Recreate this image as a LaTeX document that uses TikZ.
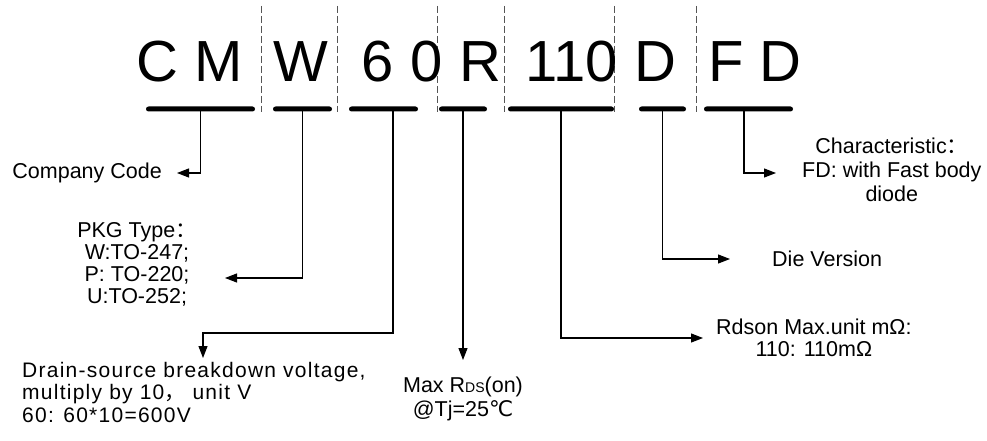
\documentclass[tikz,border=0pt]{standalone}
\usepackage{fontspec}
\setmainfont{Liberation Sans}
\newfontfamily\cjkpunct{Noto Sans CJK SC}
\newfontfamily\symglyph{DejaVu Sans}
\newfontfamily\widesans[LetterSpace=6]{Liberation Sans}
\usepackage{tikz}
\usetikzlibrary{arrows.meta,positioning}
\definecolor{PartInk}{HTML}{000000}
\definecolor{GuideGray}{HTML}{555555}

\begin{document}
\begin{tikzpicture}[x=1pt,y=-1pt,
    codechar/.style={anchor=base,inner sep=0pt,font=\fontsize{58}{58}\selectfont},
    codebar/.style={fill=PartInk,rounded corners=2.5pt,minimum height=5pt,inner sep=0pt},
    guide/.style={draw=GuideGray,line width=0.8pt,dash pattern=on 7pt off 3pt},
    link/.style={draw=PartInk,line width=1.1pt,-{Triangle[length=12pt,width=9pt]}},
    lbl/.style={inner sep=0pt,align=center,font=\fontsize{21.5}{22}\selectfont}]
  \useasboundingbox (0,0) rectangle (987,441);

  \foreach \gx in {261,337,437,504,614,696}
    \draw[guide] (\gx,6) -- (\gx,112);

  \node[codechar] (codeCM) at (190,82) {C M};
  \node[codechar] (codeW) at (300.5,82) {W};
  \node[codechar] (code60) at (402,82) {6 0};
  \node[codechar] (codeR) at (480,82) {R};
  \node[codechar] (code110) at (571.5,82) {110};
  \node[codechar] (codeD) at (655,82) {D};
  \node[codechar] (codeFD) at (755,82) {F D};

  \node[codebar,minimum width=109pt] (barCM) at (200.5,109) {};
  \node[codebar,minimum width=59pt] (barW) at (302.5,109) {};
  \node[codebar,minimum width=69pt] (bar60) at (383.5,109) {};
  \node[codebar,minimum width=48pt] (barR) at (463,109) {};
  \node[codebar,minimum width=106pt] (bar110) at (561,109) {};
  \node[codebar,minimum width=47pt] (barD) at (662.5,109) {};
  \node[codebar,minimum width=89pt] (barFD) at (748.5,109) {};

  \coordinate (tipCC) at (177,173);
  \coordinate (tipPKG) at (225,278);
  \coordinate (tipDrain) at (203,358);
  \coordinate (tipMax) at (463,360);
  \coordinate (tipRds) at (703,338);
  \coordinate (tipDie) at (730,259);
  \coordinate (tipFD) at (776,173);

  \node[lbl,left=15pt of tipCC] (compCode) {Company Code};
  \node[lbl,anchor=base] (pkgType) at (137,303)
    {PKG Type{\cjkpunct ：}\\W:TO-247;\\P: TO-220;\\U:TO-252;};
  \node[lbl,align=left,anchor=base west,font=\widesans\fontsize{21}{22.5}\selectfont] (drainV) at (22,422)
    {Drain-source breakdown voltage,\\multiply by 10{\cjkpunct ，} unit V\\60: 60*10=600V};
  \node[lbl,below=17pt of tipMax,font=\fontsize{21.5}{24}\selectfont] (maxRds)
    {Max R{\fontsize{14}{14}\selectfont DS}(on)\\@Tj=25{\symglyph ℃}};
  \node[lbl,right=13pt of tipRds] (rdsonMax) {Rdson Max.unit mΩ:\\110: 110mΩ};
  \node[lbl,right=42pt of tipDie] (dieVer) {Die Version};
  \node[lbl,right=26pt of tipFD,yshift=3pt,font=\fontsize{21.5}{24}\selectfont] (charFD)
    {Characteristic{\cjkpunct ：}\\FD: with Fast body\\diode};

  \draw[link] (barCM.center) |- (tipCC);
  \draw[link] (barW.center) |- (tipPKG);
  \draw[link] ([xshift=9.5pt]bar60.center) -- ++(0,224) -| (tipDrain);
  \draw[link] (barR.center) -- (tipMax);
  \draw[link] (bar110.center) |- (tipRds);
  \draw[link] (barD.center) |- (tipDie);
  \draw[link] ([xshift=-4.5pt]barFD.center) |- (tipFD);
\end{tikzpicture}
\end{document}
